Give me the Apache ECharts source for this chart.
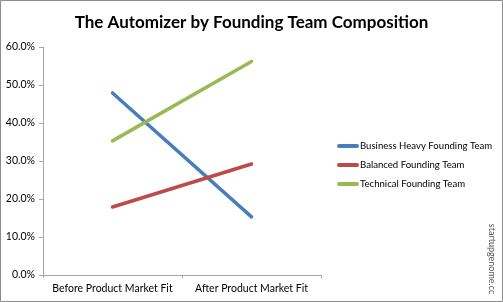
<!DOCTYPE html>
<html><head><meta charset="utf-8">
<script src="https://cdn.jsdelivr.net/npm/echarts@6/dist/echarts.min.js"></script>
<style>html,body{margin:0;padding:0;background:#fff}#c{width:503px;height:302px}</style>
</head><body><div id="c"></div>
<script>
const categories = ['Before Product Market Fit', 'After Product Market Fit'];
const businessHeavy = [47.9, 15.3];
const balanced = [17.9, 29.2];
const technical = [35.3, 56.2];
const seriesNames = ['Business Heavy Founding Team', 'Balanced Founding Team', 'Technical Founding Team'];
const colors = ['#4a7ebb', '#be4b48', '#98b954'];
const yTicks = [0, 10, 20, 30, 40, 50, 60];

const chart = echarts.init(document.getElementById('c'), null, {renderer: 'canvas'});
const font = 'Lato';
const mk = (name, data, color) => ({
  name, type: 'line', data, symbol: 'none', animation: false,
  lineStyle: {width: 3.5, color, cap: 'round'}, itemStyle: {color}
});
chart.setOption({
  animation: false,
  title: {text: 'The Automizer by Founding Team Composition', left: 'center', top: 9,
    textStyle: {fontFamily: font, fontWeight: 'bold', fontSize: 17, color: '#000'}},
  grid: {left: 43, right: 182, top: 47, bottom: 27},
  legend: {orient: 'vertical', left: 332, top: 136, itemGap: 9, itemWidth: 22, itemHeight: 12,
    data: seriesNames.map((n, i) => ({name: n, icon: 'path://M2,4 L20,4 A2,2 0 0 1 20,8 L2,8 A2,2 0 0 1 2,4 Z'})),
    textStyle: {fontFamily: font, fontSize: 9.6, color: '#000', padding: [0,0,0,-4]}},
  xAxis: {type: 'category', data: categories, boundaryGap: true,
    axisLine: {lineStyle: {color: '#a6a6a6', width: 1}},
    axisTick: {show: true, length: 3, lineStyle: {color: '#a6a6a6'}},
    axisLabel: {fontFamily: font, fontSize: 10.5, color: '#000', margin: 8, interval: 0}},
  yAxis: {type: 'value', min: 0, max: 60, interval: 10,
    axisLine: {show: true, lineStyle: {color: '#a6a6a6'}},
    axisTick: {show: true, length: 4, lineStyle: {color: '#a6a6a6'}},
    splitLine: {show: false},
    axisLabel: {fontFamily: font, fontSize: 10.5, color: '#000', margin: 8,
      formatter: v => v.toFixed(1) + '%'}},
  series: [mk(seriesNames[0], businessHeavy, colors[0]), mk(seriesNames[1], balanced, colors[1]), mk(seriesNames[2], technical, colors[2])],
  graphic: [
    {type: 'rect', shape: {x: 0.5, y: 0.5, width: 502, height: 301}, style: {fill: 'none', stroke: '#8c8c8c', lineWidth: 1}, silent: true},
    {type: 'text', x: 492, y: 259, rotation: -Math.PI/2,
      style: {text: 'startupgenome.cc', fontFamily: font, fontSize: 9, fill: '#555', align: 'center', verticalAlign: 'middle'}}
  ]
});
</script></body></html>
